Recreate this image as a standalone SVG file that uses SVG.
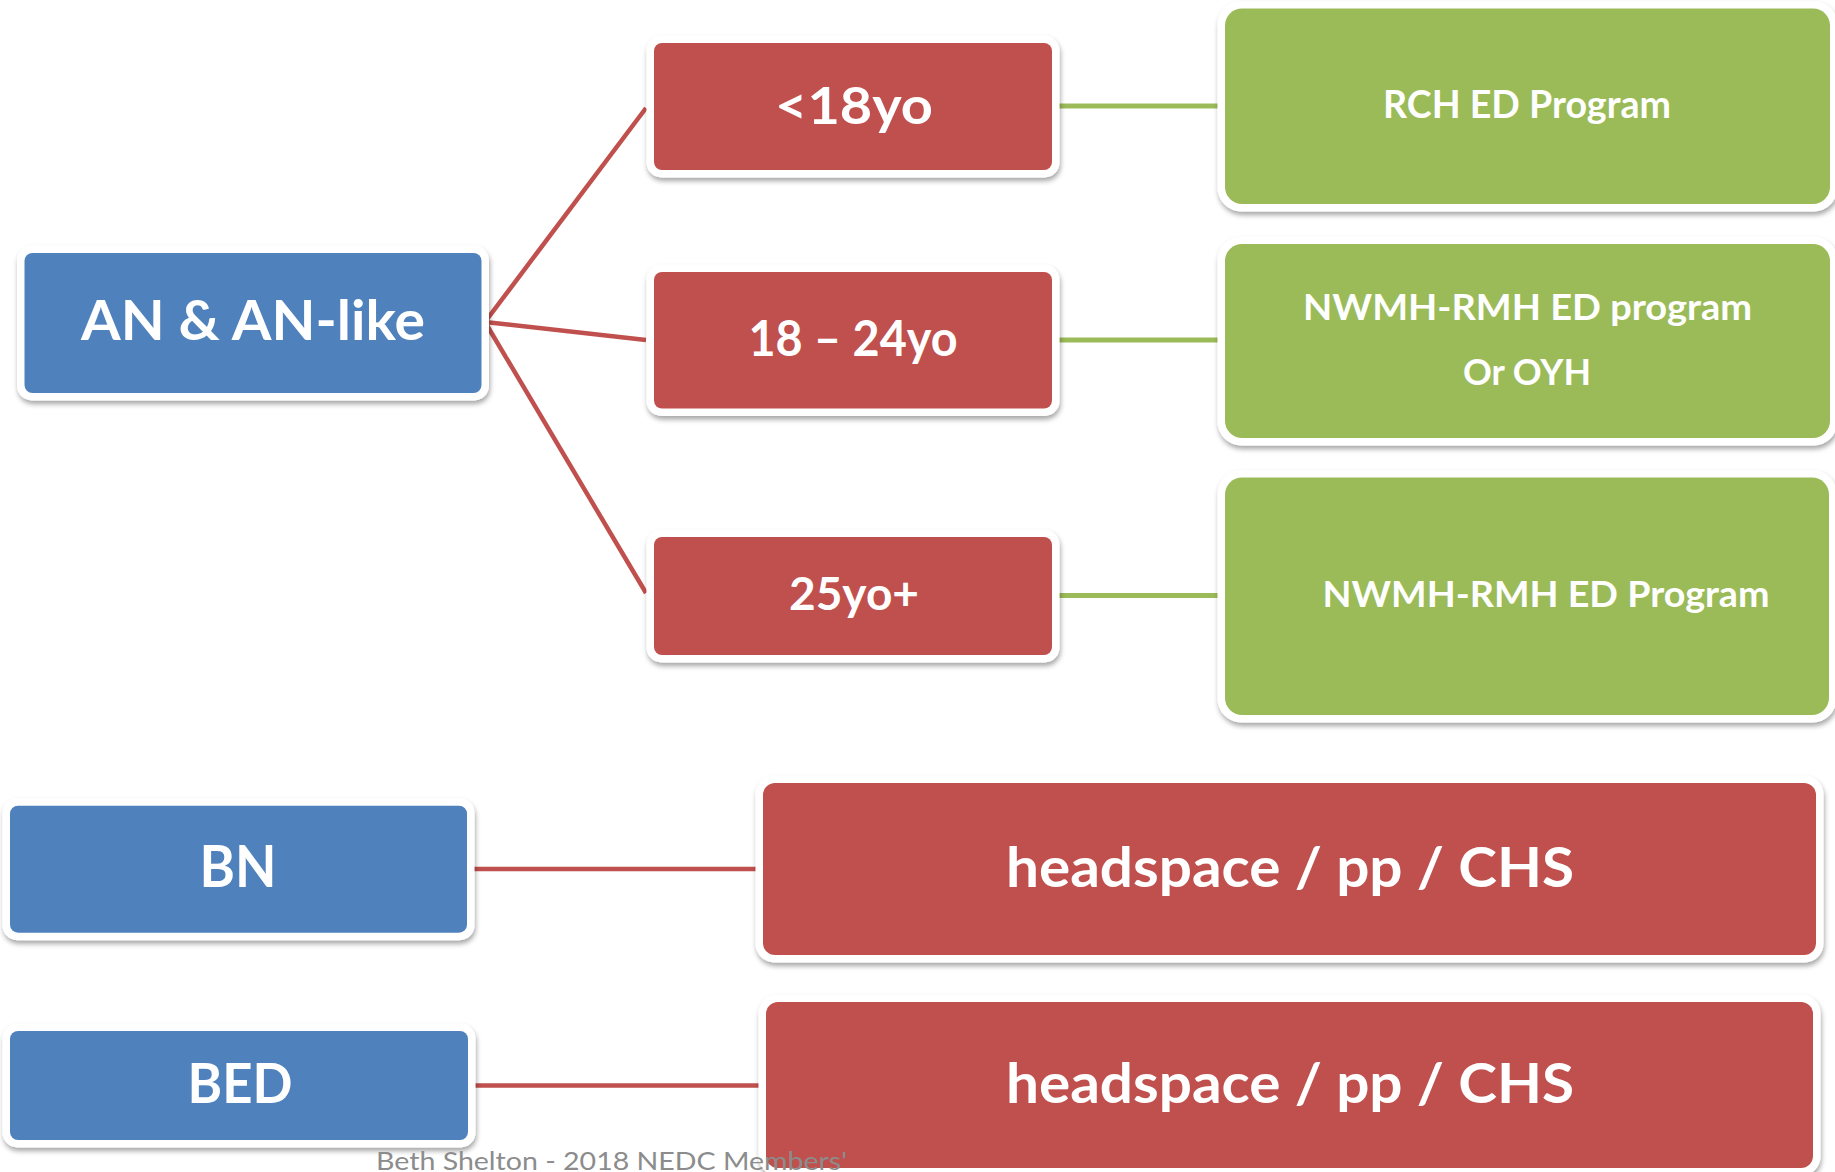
<svg xmlns="http://www.w3.org/2000/svg" width="1835" height="1172" viewBox="0 0 1835 1172">
<style>
.frame{fill:#ffffff;filter:url(#sh)}
.blue{fill:#4F81BD}
.red{fill:#C0504D}
.green{fill:#9BBB59}
.lbl{font-family:Lato,"Open Sans","Liberation Sans",sans-serif;font-weight:bold;fill:#ffffff;text-anchor:middle}
.rl{stroke:#C0504D;stroke-width:4.5;fill:none}
.gl{stroke:#9BBB59;stroke-width:5;fill:none}
.foot{font-family:Lato,"Open Sans","Liberation Sans",sans-serif;fill:#8C8C8C}
</style>
<defs>
<filter id="sh" x="-5%" y="-10%" width="110%" height="125%">
<feDropShadow dx="1" dy="3.5" stdDeviation="2.5" flood-color="#000000" flood-opacity="0.35"/>
</filter>
</defs>
<rect width="1835" height="1172" fill="#ffffff"/>
<g id="connectors">
<line class="rl" x1="485" y1="322" x2="646" y2="108"/>
<line class="rl" x1="485" y1="322" x2="646" y2="340"/>
<line class="rl" x1="485" y1="322" x2="646" y2="593"/>
<line class="gl" x1="1057" y1="106" x2="1218" y2="106"/>
<line class="gl" x1="1057" y1="340" x2="1218" y2="340"/>
<line class="gl" x1="1057" y1="595.5" x2="1218" y2="595.5"/>
<line class="rl" x1="472" y1="869" x2="756" y2="869"/>
<line class="rl" x1="472" y1="1085.5" x2="759" y2="1085.5"/>
</g>
<g id="an">
<rect class="frame" x="17" y="245.5" width="472" height="155" rx="15"/>
<rect class="blue" x="24.5" y="253" width="457" height="140" rx="8"/>
<text class="lbl" x="253" y="340" font-size="56" textLength="344" lengthAdjust="spacingAndGlyphs">AN &amp; AN-like</text>
</g>
<g id="u18">
<rect class="frame" x="646.5" y="35.5" width="413" height="142" rx="15"/>
<rect class="red" x="654" y="43" width="398" height="127" rx="8"/>
<text class="lbl" x="854" y="124" font-size="51" textLength="158" lengthAdjust="spacingAndGlyphs">&lt;18yo</text>
</g>
<g id="a18">
<rect class="frame" x="646.5" y="264.5" width="413" height="151.5" rx="15"/>
<rect class="red" x="654" y="272" width="398" height="136.5" rx="8"/>
<text class="lbl" x="853" y="356" font-size="49" textLength="209" lengthAdjust="spacingAndGlyphs">18 – 24yo</text>
</g>
<g id="a25">
<rect class="frame" x="646.5" y="529.5" width="413" height="133" rx="15"/>
<rect class="red" x="654" y="537" width="398" height="118" rx="8"/>
<text class="lbl" x="854" y="610" font-size="46" textLength="130" lengthAdjust="spacingAndGlyphs">25yo+</text>
</g>
<g id="rch">
<rect class="frame" x="1217.5" y="1" width="620" height="210.5" rx="24"/>
<rect class="green" x="1225" y="8.5" width="605" height="195.5" rx="17"/>
<text class="lbl" x="1527" y="118" font-size="38" textLength="288" lengthAdjust="spacingAndGlyphs">RCH ED Program</text>
</g>
<g id="nwmh1">
<rect class="frame" x="1217.5" y="236.5" width="620" height="209" rx="24"/>
<rect class="green" x="1225" y="244" width="605" height="194" rx="17"/>
<text class="lbl" x="1527.5" y="320" font-size="37" textLength="449" lengthAdjust="spacingAndGlyphs">NWMH-RMH ED program</text>
<text class="lbl" x="1527" y="384.5" font-size="37" textLength="128" lengthAdjust="spacingAndGlyphs">Or OYH</text>
</g>
<g id="nwmh2">
<rect class="frame" x="1217.5" y="470" width="619" height="252.5" rx="24"/>
<rect class="green" x="1225" y="477.5" width="604" height="237.5" rx="17"/>
<text class="lbl" x="1546" y="607" font-size="37" textLength="447" lengthAdjust="spacingAndGlyphs">NWMH-RMH ED Program</text>
</g>
<g id="bn">
<rect class="frame" x="2.5" y="798.2" width="472" height="142" rx="15"/>
<rect class="blue" x="10" y="805.7" width="457" height="127" rx="8"/>
<text class="lbl" x="238" y="886.7" font-size="56.5" textLength="77" lengthAdjust="spacingAndGlyphs">BN</text>
</g>
<g id="bed">
<rect class="frame" x="2.5" y="1023.5" width="473" height="124" rx="15"/>
<rect class="blue" x="10" y="1031" width="458" height="109" rx="8"/>
<text class="lbl" x="240" y="1102.7" font-size="56" textLength="105" lengthAdjust="spacingAndGlyphs">BED</text>
</g>
<g id="hs1">
<rect class="frame" x="755.5" y="775.5" width="1068" height="187" rx="19"/>
<rect class="red" x="763" y="783" width="1053" height="172" rx="12"/>
<text class="lbl" x="1290" y="886.7" font-size="56" textLength="568" lengthAdjust="spacingAndGlyphs">headspace / pp / CHS</text>
</g>
<g id="hs2">
<rect class="frame" x="758.5" y="994.5" width="1062" height="181" rx="19"/>
<rect class="red" x="766" y="1002" width="1047" height="166" rx="12"/>
<text class="lbl" x="1290" y="1102.7" font-size="56" textLength="568" lengthAdjust="spacingAndGlyphs">headspace / pp / CHS</text>
</g>
<text class="foot" x="376" y="1170" font-size="25" textLength="471" lengthAdjust="spacingAndGlyphs">Beth Shelton - 2018 NEDC Members'</text>
</svg>
